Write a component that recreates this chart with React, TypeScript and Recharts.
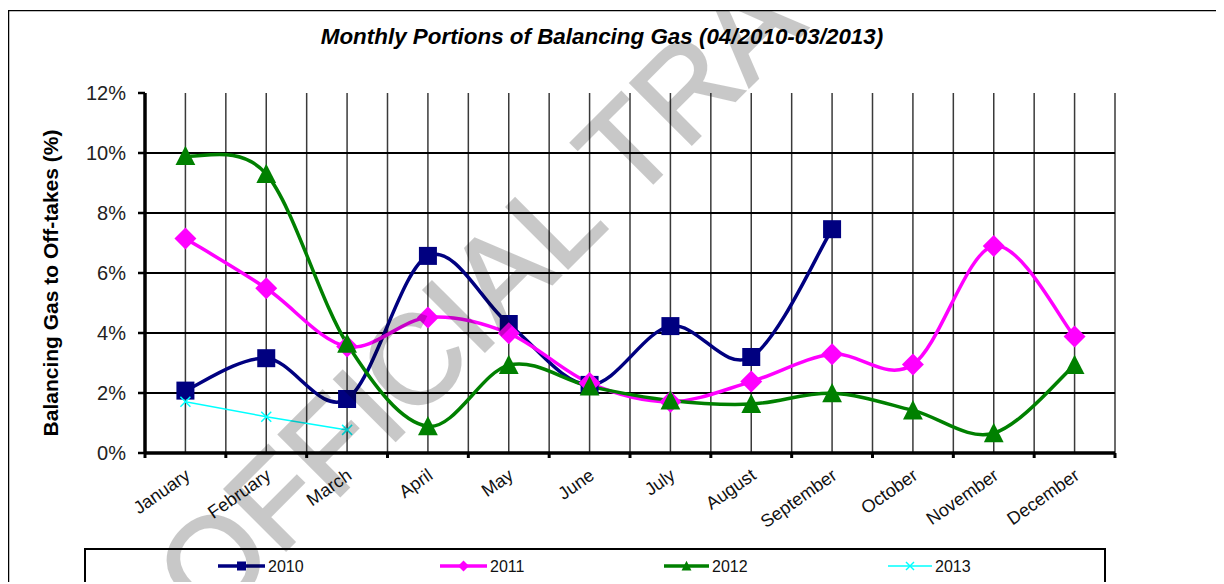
import React from 'react';
import { LineChart, Line, XAxis, YAxis, CartesianGrid } from 'recharts';

const months = ['January', 'February', 'March', 'April', 'May', 'June', 'July', 'August', 'September', 'October', 'November', 'December'];
const series2010 = [2.08, 3.16, 1.8, 6.57, 4.3, 2.27, 4.23, 3.2, 7.46, null, null, null];
const series2011 = [7.15, 5.49, 3.55, 4.52, 3.99, 2.33, 1.71, 2.38, 3.29, 2.95, 6.9, 3.88];
const series2012 = [9.9, 9.3, 3.64, 0.89, 2.93, 2.22, 1.75, 1.63, 1.99, 1.42, 0.66, 2.93];
const series2013 = [1.71, 1.21, 0.77, null, null, null, null, null, null, null, null, null];
const yTicks = [0, 2, 4, 6, 8, 10, 12];
const gridY = [2, 4, 6, 8, 10];
const seriesNames = ['2010', '2011', '2012', '2013'];
const seriesColors = ['#000080', '#FF00FF', '#008000', '#00FFFF'];
const titleText = 'Monthly Portions of Balancing Gas (04/2010-03/2013)';
const yTitleText = 'Balancing Gas to Off-takes (%)';
const watermarkText = 'OFFICIAL TRA';

const FONT = '"Liberation Sans", Arial, Helvetica, sans-serif';

const data = months.map((m, i) => ({
  x: i + 0.5,
  month: m,
  y2010: series2010[i],
  y2011: series2011[i],
  y2012: series2012[i],
  y2013: series2013[i],
}));

const xTicks: number[] = [];
for (let k = 0; k <= months.length * 2; k++) xTicks.push(k / 2);

// Excel-like smoothed line (Catmull-Rom as cubic Bezier)
const excelSmooth: any = (context: any) => {
  let pts: number[][] = [];
  return {
    areaStart() {},
    areaEnd() {},
    lineStart() {
      pts = [];
    },
    point(x: number, y: number) {
      pts.push([+x, +y]);
    },
    lineEnd() {
      const n = pts.length;
      if (!n) return;
      context.moveTo(pts[0][0], pts[0][1]);
      if (n === 1) {
        context.lineTo(pts[0][0], pts[0][1]);
        return;
      }
      for (let i = 0; i < n - 1; i++) {
        const p0 = pts[Math.max(i - 1, 0)];
        const p1 = pts[i];
        const p2 = pts[i + 1];
        const p3 = pts[Math.min(i + 2, n - 1)];
        context.bezierCurveTo(
          p1[0] + (p2[0] - p0[0]) / 6,
          p1[1] + (p2[1] - p0[1]) / 6,
          p2[0] - (p3[0] - p1[0]) / 6,
          p2[1] - (p3[1] - p1[1]) / 6,
          p2[0],
          p2[1]
        );
      }
    },
  };
};

const markerShape = (kind: string, cx: number, cy: number, color: string, s: number, key?: any) => {
  if (kind === 'square') {
    return <rect key={key} x={cx - s} y={cy - s} width={2 * s} height={2 * s} fill={color} />;
  }
  if (kind === 'diamond') {
    const d = s * 1.22;
    return <polygon key={key} points={`${cx},${cy - d} ${cx + d},${cy} ${cx},${cy + d} ${cx - d},${cy}`} fill={color} />;
  }
  if (kind === 'triangle') {
    return <polygon key={key} points={`${cx},${cy - s * 1.15} ${cx + s * 1.1},${cy + s} ${cx - s * 1.1},${cy + s}`} fill={color} />;
  }
  return (
    <g key={key}>
      <line x1={cx - s} y1={cy - s} x2={cx + s} y2={cy + s} stroke={color} strokeWidth={1.5} />
      <line x1={cx - s} y1={cy + s} x2={cx + s} y2={cy - s} stroke={color} strokeWidth={1.5} />
    </g>
  );
};

const makeDot = (kind: string, color: string, s: number) => (props: any) => {
  const { cx, cy, index, value } = props;
  const key = `dot-${kind}-${index}`;
  if (cx == null || cy == null || value == null || Number.isNaN(cy)) return <g key={key} />;
  return markerShape(kind, cx, cy, color, s, key);
};

const XTick = (props: any) => {
  const { x, y, payload } = props;
  const v = payload.value;
  if (Math.abs(v - Math.round(v)) < 1e-6) {
    return <line x1={x} x2={x} y1={y} y2={y + 5} stroke="#000" strokeWidth={3} />;
  }
  const label = months[Math.floor(v)];
  const ax = x + 6;
  const ay = y + 25;
  return (
    <text x={ax} y={ay} transform={`rotate(-35, ${ax}, ${ay})`} textAnchor="end" fontFamily={FONT} fontSize={18} fill="#111">
      {label}
    </text>
  );
};

const kinds = ['square', 'diamond', 'triangle', 'cross'];
const legendLineX = [210, 432, 656, 880];
const legendLineW = [47, 47, 45, 44];

export default function App() {
  return (
    <div style={{ position: 'relative', top: 2, width: 1216, height: 574, overflow: 'hidden', background: '#fff' }}>
      <LineChart width={1216} height={574} data={data} margin={{ top: 83, right: 109, left: 0, bottom: 0 }}>
        <CartesianGrid horizontal={false} stroke="#3a3a3a" strokeWidth={1.5} />
        <CartesianGrid vertical={false} horizontalValues={gridY} stroke="#000" strokeWidth={2} />
        <XAxis
          dataKey="x"
          type="number"
          domain={[0, 12]}
          ticks={xTicks}
          interval={0}
          height={131}
          tickSize={0}
          tickMargin={0}
          tickLine={false}
          axisLine={{ stroke: '#000', strokeWidth: 3.5 }}
          tick={<XTick />}
        />
        <YAxis
          type="number"
          domain={[0, 12]}
          ticks={yTicks}
          interval={0}
          width={137}
          tickSize={7}
          tickMargin={12}
          tickFormatter={(v: number) => `${v}%`}
          axisLine={{ stroke: '#000', strokeWidth: 3.5 }}
          tickLine={{ stroke: '#000', strokeWidth: 2.5 }}
          tick={{ fontFamily: FONT, fontSize: 20, fill: '#222' }}
        />
        <Line dataKey="y2010" name={seriesNames[0]} stroke={seriesColors[0]} strokeWidth={3.5} type={excelSmooth}
          dot={makeDot('square', seriesColors[0], 9)} activeDot={false} isAnimationActive={false} />
        <Line dataKey="y2011" name={seriesNames[1]} stroke={seriesColors[1]} strokeWidth={3.5} type={excelSmooth}
          dot={makeDot('diamond', seriesColors[1], 9)} activeDot={false} isAnimationActive={false} />
        <Line dataKey="y2012" name={seriesNames[2]} stroke={seriesColors[2]} strokeWidth={3.5} type={excelSmooth}
          dot={makeDot('triangle', seriesColors[2], 9)} activeDot={false} isAnimationActive={false} />
        <Line dataKey="y2013" name={seriesNames[3]} stroke={seriesColors[3]} strokeWidth={1.5} type="linear"
          dot={makeDot('cross', seriesColors[3], 5)} activeDot={false} isAnimationActive={false} />
      </LineChart>
      <svg width={1216} height={574} style={{ position: 'absolute', left: 0, top: 0, pointerEvents: 'none' }}>
        <line x1={0.5} y1={0} x2={0.5} y2={574} stroke="#000" strokeWidth={1.5} />
        <line x1={0} y1={0.5} x2={1216} y2={0.5} stroke="#000" strokeWidth={1.5} />
        <text x={594} y={34} textAnchor="middle" fontFamily={FONT} fontSize={22.4} fontWeight="bold" fontStyle="italic" fill="#000">
          {titleText}
        </text>
        <text x={50} y={273} transform="rotate(-90, 50, 273)" textAnchor="middle" fontFamily={FONT} fontSize={21} fontWeight="bold" fill="#000">
          {yTitleText}
        </text>
        <rect x={77} y={539} width={1020} height={34} fill="none" stroke="#000" strokeWidth={2} />
        {seriesNames.map((name, i) => {
          const x0 = legendLineX[i];
          const w = legendLineW[i];
          const cy = 556;
          return (
            <g key={name}>
              <line x1={x0} y1={cy} x2={x0 + w} y2={cy} stroke={seriesColors[i]} strokeWidth={i === 3 ? 1.5 : 3.5} />
              {markerShape(kinds[i], x0 + w / 2, cy, seriesColors[i], i === 3 ? 4 : 4.5)}
              <text x={x0 + w + 3} y={562} fontFamily={FONT} fontSize={16} fill="#111">{name}</text>
            </g>
          );
        })}
        <g opacity={0.21}>
          <text x={201.4} y={616.8} transform="rotate(-45, 201.4, 616.8)" fontFamily={FONT} fontSize={126} fill="#000" stroke="#000" strokeWidth={2.5}>
            {watermarkText}
          </text>
        </g>
      </svg>
    </div>
  );
}
